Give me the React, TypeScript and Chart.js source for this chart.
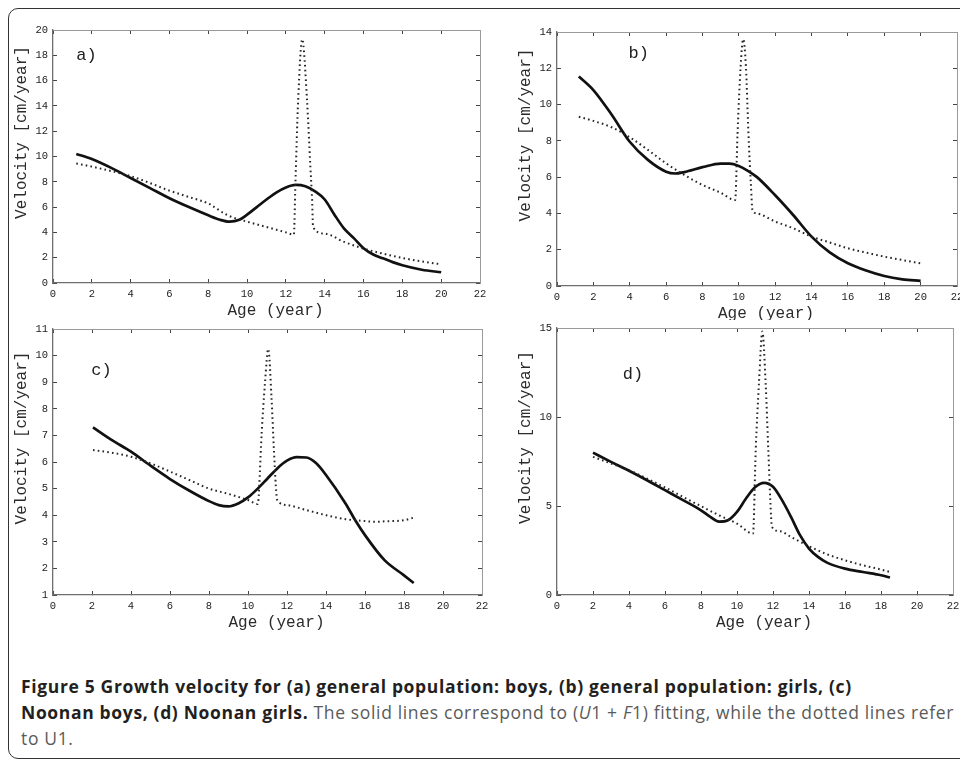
import React, { useEffect, useRef } from "react";
import { Chart, registerables } from "chart.js";

Chart.register(...registerables);

// ---------- tick labels ----------
const xTickValues = [0, 2, 4, 6, 8, 10, 12, 14, 16, 18, 20, 22];
const yTicksA = [0, 2, 4, 6, 8, 10, 12, 14, 16, 18, 20];
const yTicksB = [0, 2, 4, 6, 8, 10, 12, 14];
const yTicksC = [1, 2, 3, 4, 5, 6, 7, 8, 9, 10, 11];
const yTicksD = [0, 5, 10, 15];

// ---------- (a) general population: boys ----------
const aAgeSolid = [1.2, 2, 3, 4, 5, 6, 7, 8, 8.6, 9.1, 9.6, 10, 10.5, 11, 11.5, 12, 12.5, 13, 13.5, 14, 14.5, 15, 15.5, 16, 16.5, 17, 17.5, 18, 19, 20];
const aVelSolid = [10.2, 9.8, 9.1, 8.3, 7.5, 6.7, 6.0, 5.35, 5.0, 4.85, 5.0, 5.4, 6.0, 6.6, 7.15, 7.55, 7.75, 7.65, 7.25, 6.6, 5.4, 4.3, 3.55, 2.75, 2.25, 1.95, 1.65, 1.4, 1.05, 0.85];
const aAgeDot = [1.2, 2, 3, 4, 5, 6, 7, 8, 9, 10, 11, 12, 12.41, 12.49, 12.63, 12.84, 13.09, 13.26, 13.35, 13.4, 14, 15, 16, 17, 18, 19, 20];
const aVelDot = [9.45, 9.2, 8.85, 8.45, 7.9, 7.3, 6.8, 6.28, 5.35, 4.85, 4.43, 4.0, 3.83, 7.9, 14.4, 19.26, 14.4, 9.2, 6.55, 4.43, 3.9, 3.25, 2.72, 2.32, 1.98, 1.7, 1.48];

// ---------- (b) general population: girls ----------
const bAgeSolid = [1.2, 2, 3, 4, 5, 6, 6.5, 7, 8, 9, 9.5, 10, 10.5, 11, 12, 13, 14, 15, 16, 17, 18, 19, 20];
const bVelSolid = [11.55, 10.8, 9.45, 7.95, 6.95, 6.3, 6.2, 6.28, 6.55, 6.75, 6.75, 6.62, 6.35, 6.0, 5.0, 3.9, 2.72, 1.85, 1.25, 0.85, 0.55, 0.37, 0.28];
const bAgeDot = [1.2, 2, 3, 4, 5, 6, 7, 8, 9, 9.8, 9.93, 10.1, 10.24, 10.39, 10.53, 10.66, 10.75, 11, 12, 13, 14, 15, 16, 17, 18, 19, 20];
const bVelDot = [9.33, 9.1, 8.75, 8.2, 7.5, 6.76, 6.12, 5.57, 5.14, 4.74, 8.4, 12.1, 13.6, 12.1, 8.4, 5.66, 4.2, 4.0, 3.55, 3.18, 2.72, 2.4, 2.08, 1.84, 1.62, 1.43, 1.25];

// ---------- (c) Noonan boys ----------
const cAgeSolid = [2.05, 3, 4, 5, 6, 7, 8, 8.5, 9, 9.5, 10, 10.5, 11, 11.5, 12, 12.5, 13, 13.5, 14, 15, 15.5, 16, 17, 18, 18.5];
const cVelSolid = [7.3, 6.83, 6.39, 5.86, 5.36, 4.92, 4.53, 4.38, 4.33, 4.44, 4.67, 5.0, 5.38, 5.76, 6.05, 6.18, 6.17, 5.95, 5.51, 4.44, 3.81, 3.25, 2.31, 1.74, 1.45];
const cAgeDot = [2.05, 3, 4, 5, 6, 7, 8, 9, 10, 10.5, 10.7, 10.87, 11.04, 11.21, 11.33, 11.43, 11.5, 12, 13, 14, 15, 16, 16.5, 17, 18, 18.5];
const cVelDot = [6.45, 6.35, 6.2, 5.95, 5.64, 5.32, 5.0, 4.8, 4.57, 4.42, 7.08, 8.96, 10.25, 8.34, 6.45, 5.07, 4.57, 4.38, 4.19, 4.0, 3.85, 3.78, 3.75, 3.77, 3.81, 3.91];

// ---------- (d) Noonan girls ----------
const dAgeSolid = [2, 3, 4, 5, 6, 7, 8, 8.5, 9, 9.5, 10, 10.5, 11, 11.5, 12, 12.5, 13, 13.5, 14, 14.5, 15, 16, 17, 18, 18.5];
const dVelSolid = [8.0, 7.48, 6.98, 6.45, 5.89, 5.33, 4.76, 4.4, 4.12, 4.2, 4.67, 5.42, 6.05, 6.3, 6.08, 5.33, 4.39, 3.36, 2.61, 2.14, 1.82, 1.48, 1.29, 1.11, 0.98];
const dAgeDot = [2, 3, 4, 5, 6, 7, 8, 9, 10, 10.89, 11.04, 11.22, 11.41, 11.59, 11.74, 11.85, 11.94, 12.4, 13, 14, 15, 16, 17, 18, 18.5];
const dVelDot = [7.76, 7.39, 7.01, 6.54, 6.04, 5.51, 4.99, 4.48, 4.01, 3.45, 8.14, 11.9, 14.8, 11.9, 8.14, 5.33, 3.83, 3.58, 3.26, 2.74, 2.29, 1.95, 1.67, 1.43, 1.29];

const panelLabels = ["a)", "b)", "c)", "d)"];
const xTitle = "Age (year)";
const yTitle = "Velocity [cm/year]";

type PanelCfg = {
  label: string;
  labelAt: [number, number];
  ageSolid: number[];
  velSolid: number[];
  ageDot: number[];
  velDot: number[];
  yTicks: number[];
  canvas: { x: number; y: number; w: number; h: number };
  area: { l: number; t: number; r: number; b: number };
};

const panels: PanelCfg[] = [
  {
    label: panelLabels[0], labelAt: [1.2, 17.95],
    ageSolid: aAgeSolid, velSolid: aVelSolid, ageDot: aAgeDot, velDot: aVelDot, yTicks: yTicksA,
    canvas: { x: 0, y: 14, w: 490, h: 306 }, area: { l: 53, t: 30, r: 480, b: 283 },
  },
  {
    label: panelLabels[1], labelAt: [3.93, 12.84],
    ageSolid: bAgeSolid, velSolid: bVelSolid, ageDot: bAgeDot, velDot: bVelDot, yTicks: yTicksB,
    canvas: { x: 490, y: 14, w: 485, h: 306 }, area: { l: 557, t: 32, r: 957, b: 286 },
  },
  {
    label: panelLabels[2], labelAt: [1.96, 9.43],
    ageSolid: cAgeSolid, velSolid: cVelSolid, ageDot: cAgeDot, velDot: cVelDot, yTicks: yTicksC,
    canvas: { x: 0, y: 320, w: 490, h: 320 }, area: { l: 53, t: 329, r: 482, b: 595 },
  },
  {
    label: panelLabels[3], labelAt: [3.65, 12.41],
    ageSolid: dAgeSolid, velSolid: dVelSolid, ageDot: dAgeDot, velDot: dVelDot, yTicks: yTicksD,
    canvas: { x: 490, y: 320, w: 485, h: 320 }, area: { l: 557, t: 328, r: 953, b: 595 },
  },
];

const MONO = '"Liberation Mono", "DejaVu Sans Mono", monospace';

const panelText = {
  id: "panelText",
  afterDraw(chart: any, _args: any, opts: any) {
    const { ctx, chartArea: ca, scales } = chart;
    ctx.save();
    ctx.fillStyle = "#2b2b2b";
    ctx.font = `16px ${MONO}`;
    ctx.textAlign = "center";
    ctx.textBaseline = "middle";
    ctx.fillText(opts.xTitle, (ca.left + ca.right) / 2 + 9, ca.bottom + 27.5);
    ctx.translate(ca.left - 31, (ca.top + ca.bottom) / 2 - 24);
    ctx.rotate(-Math.PI / 2);
    ctx.fillText(opts.yTitle, 0, 0);
    ctx.restore();
    ctx.save();
    ctx.fillStyle = "#222";
    ctx.font = `17px ${MONO}`;
    ctx.textAlign = "left";
    ctx.textBaseline = "middle";
    ctx.fillText(opts.label, scales.x.getPixelForValue(opts.labelAt[0]), scales.y.getPixelForValue(opts.labelAt[1]));
    ctx.restore();
  },
};

function toPoints(xs: number[], ys: number[]) {
  return xs.map((x, i) => ({ x, y: ys[i] }));
}

function Panel({ cfg }: { cfg: PanelCfg }) {
  const ref = useRef<HTMLCanvasElement>(null);
  useEffect(() => {
    const { canvas, area, yTicks } = cfg;
    const yMin = yTicks[0];
    const yMax = yTicks[yTicks.length - 1];
    const fitW = (w: number) => (s: any) => {
      s.width = w;
      s.paddingLeft = 0; s.paddingRight = 0; s.paddingTop = 0; s.paddingBottom = 0;
    };
    const fitH = (h: number) => (s: any) => {
      s.height = h;
      s.paddingLeft = 0; s.paddingRight = 0; s.paddingTop = 0; s.paddingBottom = 0;
    };
    const setTicks = (vals: number[]) => (s: any) => {
      s.ticks = vals.map((v) => ({ value: v }));
    };
    const gridCommon = {
      drawOnChartArea: false,
      drawTicks: true,
      tickLength: -4,
      tickColor: "#444",
      tickWidth: 1,
    };
    const tickFont = { family: MONO, size: 10.5 };
    const chart = new Chart(ref.current as HTMLCanvasElement, {
      type: "line",
      data: {
        datasets: [
          {
            data: toPoints(cfg.ageDot, cfg.velDot),
            borderColor: "#262626",
            borderWidth: 2,
            borderDash: [1.6, 3.2],
            pointRadius: 0,
            cubicInterpolationMode: "monotone",
            fill: false,
          },
          {
            data: toPoints(cfg.ageSolid, cfg.velSolid),
            borderColor: "#111",
            borderWidth: 2.7,
            pointRadius: 0,
            cubicInterpolationMode: "monotone",
            fill: false,
          },
        ],
      },
      options: {
        animation: false,
        responsive: false,
        events: [],
        parsing: false as any,
        layout: {
          padding: {
            left: 0,
            bottom: 0,
            top: area.t - canvas.y,
            right: canvas.x + canvas.w - area.r,
          },
        },
        plugins: {
          legend: { display: false },
          tooltip: { enabled: false },
          panelText: { xTitle, yTitle, label: cfg.label, labelAt: cfg.labelAt },
        } as any,
        scales: {
          x: {
            type: "linear",
            position: "bottom",
            min: 0,
            max: 22,
            afterBuildTicks: setTicks(xTickValues),
            afterFit: fitH(canvas.y + canvas.h - area.b),
            grid: gridCommon,
            border: { display: true, color: "#6f6f6f", width: 1.3 },
            ticks: { padding: 9, color: "#222", font: tickFont, maxRotation: 0, autoSkip: false },
          },
          x2: {
            type: "linear",
            axis: "x",
            position: "top",
            min: 0,
            max: 22,
            afterBuildTicks: setTicks(xTickValues),
            afterFit: fitH(0),
            grid: gridCommon,
            border: { display: true, color: "#9a9a9a", width: 1 },
            ticks: { display: false },
          },
          y: {
            type: "linear",
            position: "left",
            min: yMin,
            max: yMax,
            afterBuildTicks: setTicks(yTicks),
            afterFit: fitW(area.l - canvas.x),
            grid: gridCommon,
            border: { display: true, color: "#6f6f6f", width: 1.3 },
            ticks: { padding: 9, color: "#222", font: tickFont, autoSkip: false },
          },
          y2: {
            type: "linear",
            axis: "y",
            position: "right",
            min: yMin,
            max: yMax,
            afterBuildTicks: setTicks(yTicks),
            afterFit: fitW(0),
            grid: gridCommon,
            border: { display: true, color: "#9a9a9a", width: 1 },
            ticks: { display: false },
          },
        } as any,
      },
      plugins: [panelText as any],
    } as any);
    return () => chart.destroy();
  }, [cfg]);
  const { canvas } = cfg;
  return (
    <canvas
      ref={ref}
      width={canvas.w}
      height={canvas.h}
      style={{ position: "absolute", left: canvas.x, top: canvas.y, width: canvas.w, height: canvas.h }}
    />
  );
}

const captionBold1 = "Figure 5 Growth velocity for (a) general population: boys, (b) general population: girls, (c)";
const captionBold2 = "Noonan boys, (d) Noonan girls.";
const captionRest2a = " The solid lines correspond to (";
const captionRest2b = ") fitting, while the dotted lines refer";
const captionLine3 = "to U1.";

export default function App() {
  const lineStyle: React.CSSProperties = {
    position: "absolute",
    left: 21,
    whiteSpace: "nowrap",
    lineHeight: "26px",
    fontFamily: '"Open Sans", "Noto Sans", sans-serif',
    fontSize: 17.5,
    letterSpacing: 0.65,
    color: "#5a5a5a",
  };
  const bold: React.CSSProperties = { fontWeight: 700, color: "#231f20" };
  return (
    <div
      style={{
        position: "fixed",
        left: 0,
        top: 0,
        width: 960,
        height: 761,
        overflow: "hidden",
        background: "#fff",
      }}
    >
      <div
        style={{
          position: "absolute",
          left: 8,
          top: 8,
          width: 1000,
          height: 751,
          border: "1.5px solid #333",
          borderRadius: 10,
          boxSizing: "border-box",
        }}
      />
      {panels.map((p, i) => (
        <Panel key={i} cfg={p} />
      ))}
      <div style={{ ...lineStyle, top: 673 }}>
        <span style={bold}>{captionBold1}</span>
      </div>
      <div style={{ ...lineStyle, top: 699 }}>
        <span style={bold}>{captionBold2}</span>
        {captionRest2a}
        <i>U</i>1 + <i>F</i>1{captionRest2b}
      </div>
      <div style={{ ...lineStyle, top: 725 }}>{captionLine3}</div>
    </div>
  );
}
